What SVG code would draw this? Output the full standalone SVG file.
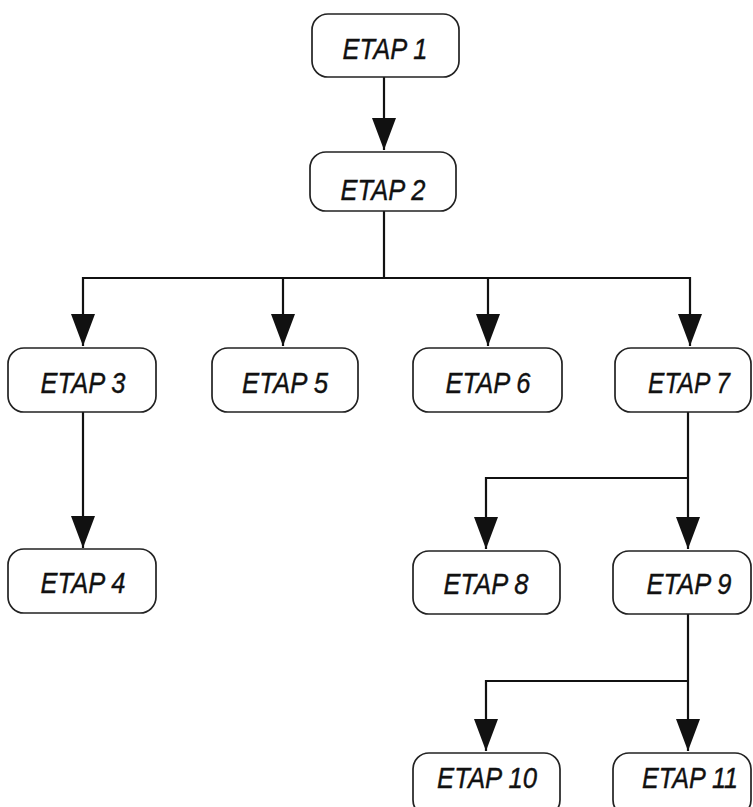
<svg xmlns="http://www.w3.org/2000/svg" width="753" height="807" viewBox="0 0 753 807">
<defs>
<marker id="arr" viewBox="0 0 32 24" refX="32" refY="12" markerWidth="32" markerHeight="24" markerUnits="userSpaceOnUse" orient="auto">
<path d="M0,0 L32,12 L0,24 z" fill="#111"/>
</marker>
<style>
.box{fill:#fff;stroke:#222;stroke-width:1.7}
.lbl{font-family:"Liberation Sans",Arial,sans-serif;font-style:italic;font-size:30px;fill:#111;stroke:#111;stroke-width:0.4;text-anchor:middle}
.ln{fill:none;stroke:#111;stroke-width:2.2}
</style>
</defs>
<rect width="753" height="807" fill="#fff"/>
<g id="connectors">
<path class="ln" d="M384,77 V150" marker-end="url(#arr)"/>
<path class="ln" d="M384,211 V278 H83 V346" marker-end="url(#arr)"/>
<path class="ln" d="M283,278 V346" marker-end="url(#arr)"/>
<path class="ln" d="M384,278 H488 V346" marker-end="url(#arr)"/>
<path class="ln" d="M488,278 H690 V346" marker-end="url(#arr)"/>
<path class="ln" d="M83,412 V548" marker-end="url(#arr)"/>
<path class="ln" d="M688,412 V549" marker-end="url(#arr)"/>
<path class="ln" d="M688,478 H486 V549" marker-end="url(#arr)"/>
<path class="ln" d="M688,614 V751" marker-end="url(#arr)"/>
<path class="ln" d="M688,681 H486 V751" marker-end="url(#arr)"/>
</g>
<g id="etap1"><rect class="box" x="312" y="14" width="147" height="63" rx="16"/><text class="lbl" x="385" y="59" textLength="85" lengthAdjust="spacingAndGlyphs">ETAP 1</text></g>
<g id="etap2"><rect class="box" x="310" y="152" width="146" height="59" rx="16"/><text class="lbl" x="383" y="200" textLength="85" lengthAdjust="spacingAndGlyphs">ETAP 2</text></g>
<g id="etap3"><rect class="box" x="8" y="348" width="148" height="64" rx="16"/><text class="lbl" x="83" y="393" textLength="85" lengthAdjust="spacingAndGlyphs">ETAP 3</text></g>
<g id="etap5"><rect class="box" x="212" y="348" width="146" height="64" rx="16"/><text class="lbl" x="285" y="393" textLength="86" lengthAdjust="spacingAndGlyphs">ETAP 5</text></g>
<g id="etap6"><rect class="box" x="413" y="348" width="149" height="64" rx="16"/><text class="lbl" x="488" y="393" textLength="85" lengthAdjust="spacingAndGlyphs">ETAP 6</text></g>
<g id="etap7"><rect class="box" x="615" y="348" width="136" height="64" rx="16"/><text class="lbl" x="689" y="393" textLength="82" lengthAdjust="spacingAndGlyphs">ETAP 7</text></g>
<g id="etap4"><rect class="box" x="8" y="549" width="148" height="64" rx="16"/><text class="lbl" x="83" y="593" textLength="85" lengthAdjust="spacingAndGlyphs">ETAP 4</text></g>
<g id="etap8"><rect class="box" x="413" y="551" width="147" height="63" rx="16"/><text class="lbl" x="486" y="594" textLength="85" lengthAdjust="spacingAndGlyphs">ETAP 8</text></g>
<g id="etap9"><rect class="box" x="613" y="551" width="138" height="63" rx="16"/><text class="lbl" x="689" y="594" textLength="85" lengthAdjust="spacingAndGlyphs">ETAP 9</text></g>
<g id="etap10"><rect class="box" x="413" y="753" width="147" height="63" rx="16"/><text class="lbl" x="487" y="788" textLength="100" lengthAdjust="spacingAndGlyphs">ETAP 10</text></g>
<g id="etap11"><rect class="box" x="613" y="753" width="138" height="63" rx="16"/><text class="lbl" x="690" y="788" textLength="96" lengthAdjust="spacingAndGlyphs">ETAP 11</text></g>
</svg>
